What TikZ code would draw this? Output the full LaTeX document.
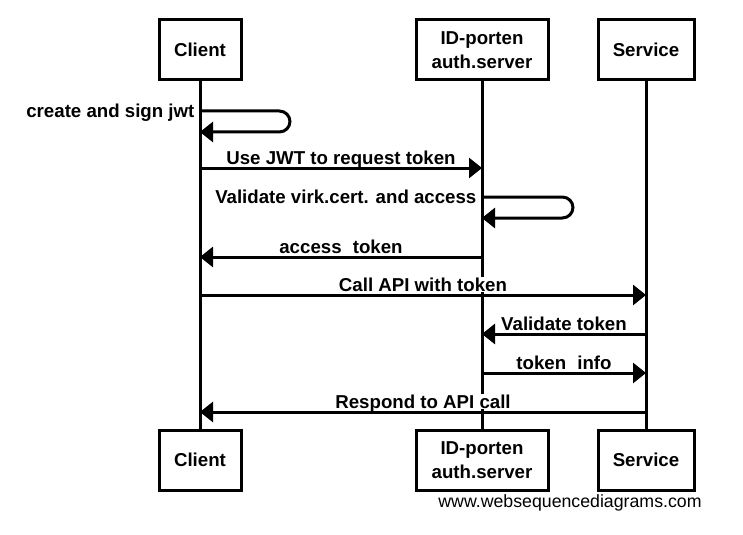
\documentclass[tikz,border=0pt]{standalone}
\usepackage{fontspec}
\setmainfont{Liberation Sans}
\usetikzlibrary{arrows.meta}

\begin{document}
\begin{tikzpicture}[x=0.75pt,y=-0.75pt,
        actor/.style={draw, line width=2.25pt, fill=white, minimum height=45pt, align=center, font=\bfseries\fontsize{14}{18}\selectfont},
        life/.style={line width=2.25pt},
        msg/.style={line width=2.25pt, -{Triangle[length=9.75pt,width=15pt]}},
        lbl/.style={fill=white, inner sep=0.5pt, text depth=0pt, anchor=base, yshift=3pt, font=\bfseries\fontsize{14}{18}\selectfont},
        selflbl/.style={inner sep=0pt, anchor=base east, xshift=-4pt, yshift=-5pt, font=\bfseries\fontsize{14}{18}\selectfont}]
        \useasboundingbox (0,0) rectangle (743,535);

        \node[actor, minimum width=61.5pt] (Client) at (200,50) {Client};
        \node[actor, minimum width=99pt] (Idp) at (482,50) {ID-porten\\auth.server};
        \node[actor, minimum width=72pt] (Service) at (646,50) {Service};

        \node[actor, minimum width=61.5pt] (ClientEnd) at (200,460) {Client};
        \node[actor, minimum width=99pt] (IdpEnd) at (482,460) {ID-porten\\auth.server};
        \node[actor, minimum width=72pt] (ServiceEnd) at (646,460) {Service};

        \draw[life] (Client) -- (ClientEnd);
        \draw[life] (Idp) -- (IdpEnd);
        \draw[life] (Service) -- (ServiceEnd);

        \coordinate (s1a) at (0,111);
        \coordinate (s1b) at (0,132);
        \coordinate (m1) at (0,168);
        \coordinate (s2a) at (0,197);
        \coordinate (s2b) at (0,218);
        \coordinate (m2) at (0,257);
        \coordinate (m3) at (0,295);
        \coordinate (m4) at (0,334);
        \coordinate (m5) at (0,373);
        \coordinate (m6) at (0,412);

        \draw[msg, rounded corners=8pt] (Client |- s1a) -- ++(90,0) |- (Client |- s1b);
        \node[selflbl] (JwtLbl) at (Client |- s1a) {create and sign jwt};

        \draw[msg] (Client |- m1) -- node[lbl] (ReqLbl) {Use JWT to request token} (Idp |- m1);

        \draw[msg, rounded corners=8pt] (Idp |- s2a) -- ++(91,0) |- (Idp |- s2b);
        \node[selflbl] (CertLbl) at (Idp |- s2a) {Validate virk.cert. and access};

        \draw[msg] (Idp |- m2) -- node[lbl] (AccLbl) {access\hspace{0.6em}token} (Client |- m2);
        \draw[msg] (Client |- m3) -- node[lbl] (CallLbl) {Call API with token} (Service |- m3);
        \draw[msg] (Service |- m4) -- node[lbl] (ValLbl) {Validate token} (Idp |- m4);
        \draw[msg] (Idp |- m5) -- node[lbl] (InfoLbl) {token\hspace{0.6em}info} (Service |- m5);
        \draw[msg] (Service |- m6) -- node[lbl] (RespLbl) {Respond to API call} (Client |- m6);

        \node[font=\fontsize{13.3}{16}\selectfont] (Wsd) at (570,503) {www.websequencediagrams.com};
\end{tikzpicture}
\end{document}
